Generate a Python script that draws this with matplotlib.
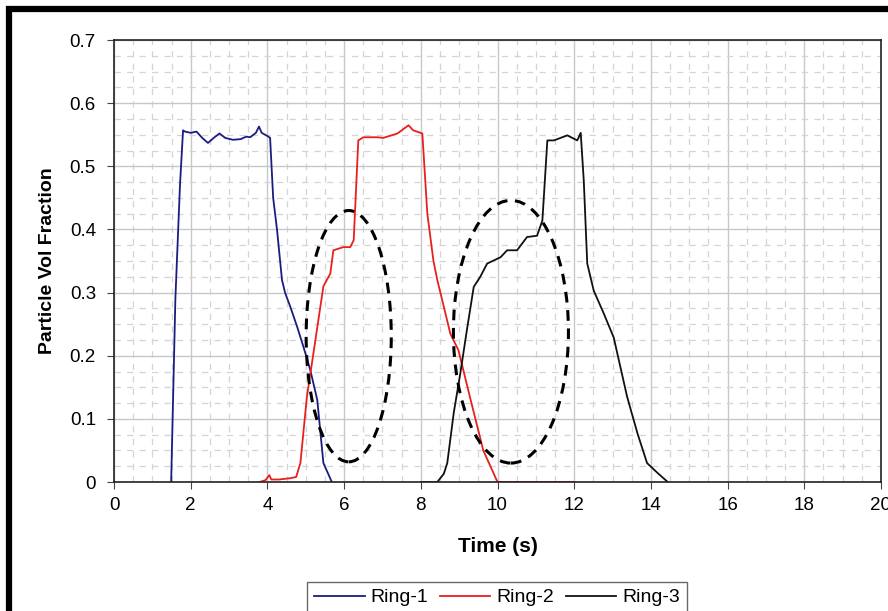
import numpy as np
import matplotlib
matplotlib.use('Agg')
import matplotlib.pyplot as plt
from matplotlib.patches import Ellipse, Rectangle
from matplotlib.ticker import MultipleLocator

plt.rcParams['font.family'] = ['Liberation Sans', 'DejaVu Sans']

# Ring-1 (time s, volume fraction)
t1 = [1.49, 1.6, 1.72, 1.8, 1.85, 2.0, 2.15, 2.3, 2.45, 2.6, 2.75, 2.9, 3.1, 3.3,
      3.45, 3.55, 3.7, 3.78, 3.85, 4.0, 4.07, 4.15, 4.25, 4.38, 4.46, 4.6, 4.78,
      4.94, 5.12, 5.3, 5.46, 5.68]
v1 = [0.0, 0.29, 0.47, 0.557, 0.555, 0.553, 0.555, 0.545, 0.537, 0.545, 0.552,
      0.545, 0.542, 0.543, 0.547, 0.546, 0.553, 0.563, 0.553, 0.548, 0.545, 0.45,
      0.40, 0.32, 0.30, 0.277, 0.245, 0.214, 0.177, 0.13, 0.03, 0.0]

# Ring-2
t2 = [3.8, 3.95, 4.05, 4.1, 4.3, 4.6, 4.75, 4.86, 5.03, 5.2, 5.46, 5.64, 5.72,
      5.98, 6.16, 6.25, 6.37, 6.5, 6.86, 7.02, 7.39, 7.68, 7.8, 8.04, 8.17, 8.33,
      8.43, 8.77, 8.98, 9.3, 9.63, 10.0, 12.0]
v2 = [0.0, 0.003, 0.011, 0.004, 0.004, 0.006, 0.008, 0.03, 0.135, 0.204, 0.31,
      0.33, 0.367, 0.372, 0.372, 0.383, 0.541, 0.546, 0.546, 0.545, 0.552, 0.565,
      0.557, 0.552, 0.425, 0.35, 0.32, 0.235, 0.209, 0.13, 0.05, 0.0, 0.0]

# Ring-3
t3 = [8.0, 8.43, 8.6, 8.69, 8.86, 9.03, 9.2, 9.38, 9.55, 9.73, 10.08, 10.25,
      10.51, 10.77, 11.03, 11.17, 11.3, 11.47, 11.82, 12.08, 12.17, 12.25, 12.34,
      12.51, 12.77, 13.03, 13.38, 13.65, 13.9, 14.18, 14.44]
v3 = [0.0, 0.0, 0.013, 0.03, 0.11, 0.172, 0.24, 0.309, 0.325, 0.346, 0.356,
      0.367, 0.367, 0.388, 0.39, 0.414, 0.541, 0.541, 0.549, 0.541, 0.553, 0.477,
      0.346, 0.303, 0.267, 0.229, 0.135, 0.077, 0.03, 0.014, 0.0]

# dashed ellipses: centre (t, v), width, height
ellipses = [((6.12, 0.231), 2.22, 0.398), ((10.35, 0.238), 3.0, 0.416)]

xticks = [0, 2, 4, 6, 8, 10, 12, 14, 16, 18, 20]
yticks = [0, 0.1, 0.2, 0.3, 0.4, 0.5, 0.6, 0.7]
ylabels = ['0', '0.1', '0.2', '0.3', '0.4', '0.5', '0.6', '0.7']

fig = plt.figure(figsize=(8.88, 6.11), dpi=100)
ax = fig.add_axes([0.1284, 0.2111, 0.8637, 0.7234])

ax.plot(t1, v1, color='#1c1c80', lw=1.3, label='Ring-1')
ax.plot(t2, v2, color='#e8201c', lw=1.3, label='Ring-2')
ax.plot(t3, v3, color='#111111', lw=1.3, label='Ring-3')

for c, w, h in ellipses:
    ax.add_patch(Ellipse(c, w, h, fill=False, ec='black', lw=2.2,
                         ls=(0, (3.5, 2.5)), zorder=5))

ax.set_xlim(0, 20)
ax.set_ylim(0, 0.7)
ax.set_xticks(xticks)
ax.set_xticklabels([str(x) for x in xticks])
ax.set_yticks(yticks)
ax.set_yticklabels(ylabels)
ax.xaxis.set_minor_locator(MultipleLocator(0.5))
ax.yaxis.set_minor_locator(MultipleLocator(0.025))
ax.grid(which='major', color='#c8c8c8', lw=1.0)
ax.grid(which='minor', color='#d4d4d4', lw=0.9, ls=(0, (5, 5)))
ax.set_axisbelow(True)
ax.tick_params(which='minor', length=0)
ax.tick_params(which='major', direction='out', length=5, labelsize=13.5,
               color='#444444')
ax.tick_params(axis='y', pad=8)
ax.tick_params(axis='x', pad=6)
for s in ax.spines.values():
    s.set_color('#222222')
    s.set_linewidth(1.2)

ax.set_xlabel('Time (s)', fontsize=15, fontweight='bold', labelpad=16)
ax.set_ylabel('Particle Vol Fraction', fontsize=14, fontweight='bold', labelpad=10)

leg = fig.legend(loc='upper center', bbox_to_anchor=(497 / 888, 1 - 582 / 611),
                 ncol=3, fontsize=14, frameon=True, fancybox=False,
                 edgecolor='#444444', handlelength=2.6, handletextpad=0.3,
                 columnspacing=0.6, borderpad=0.35, borderaxespad=0)
leg.get_frame().set_linewidth(1.0)

# outer frame of the chart area (right and bottom cut off)
fig.patches.append(Rectangle((9 / 888, -0.1), 1.2, 1 - 9 / 611 + 0.1,
                             transform=fig.transFigure, fill=False,
                             ec='black', lw=4.5, zorder=10))

fig.savefig('out.png', dpi=100)
